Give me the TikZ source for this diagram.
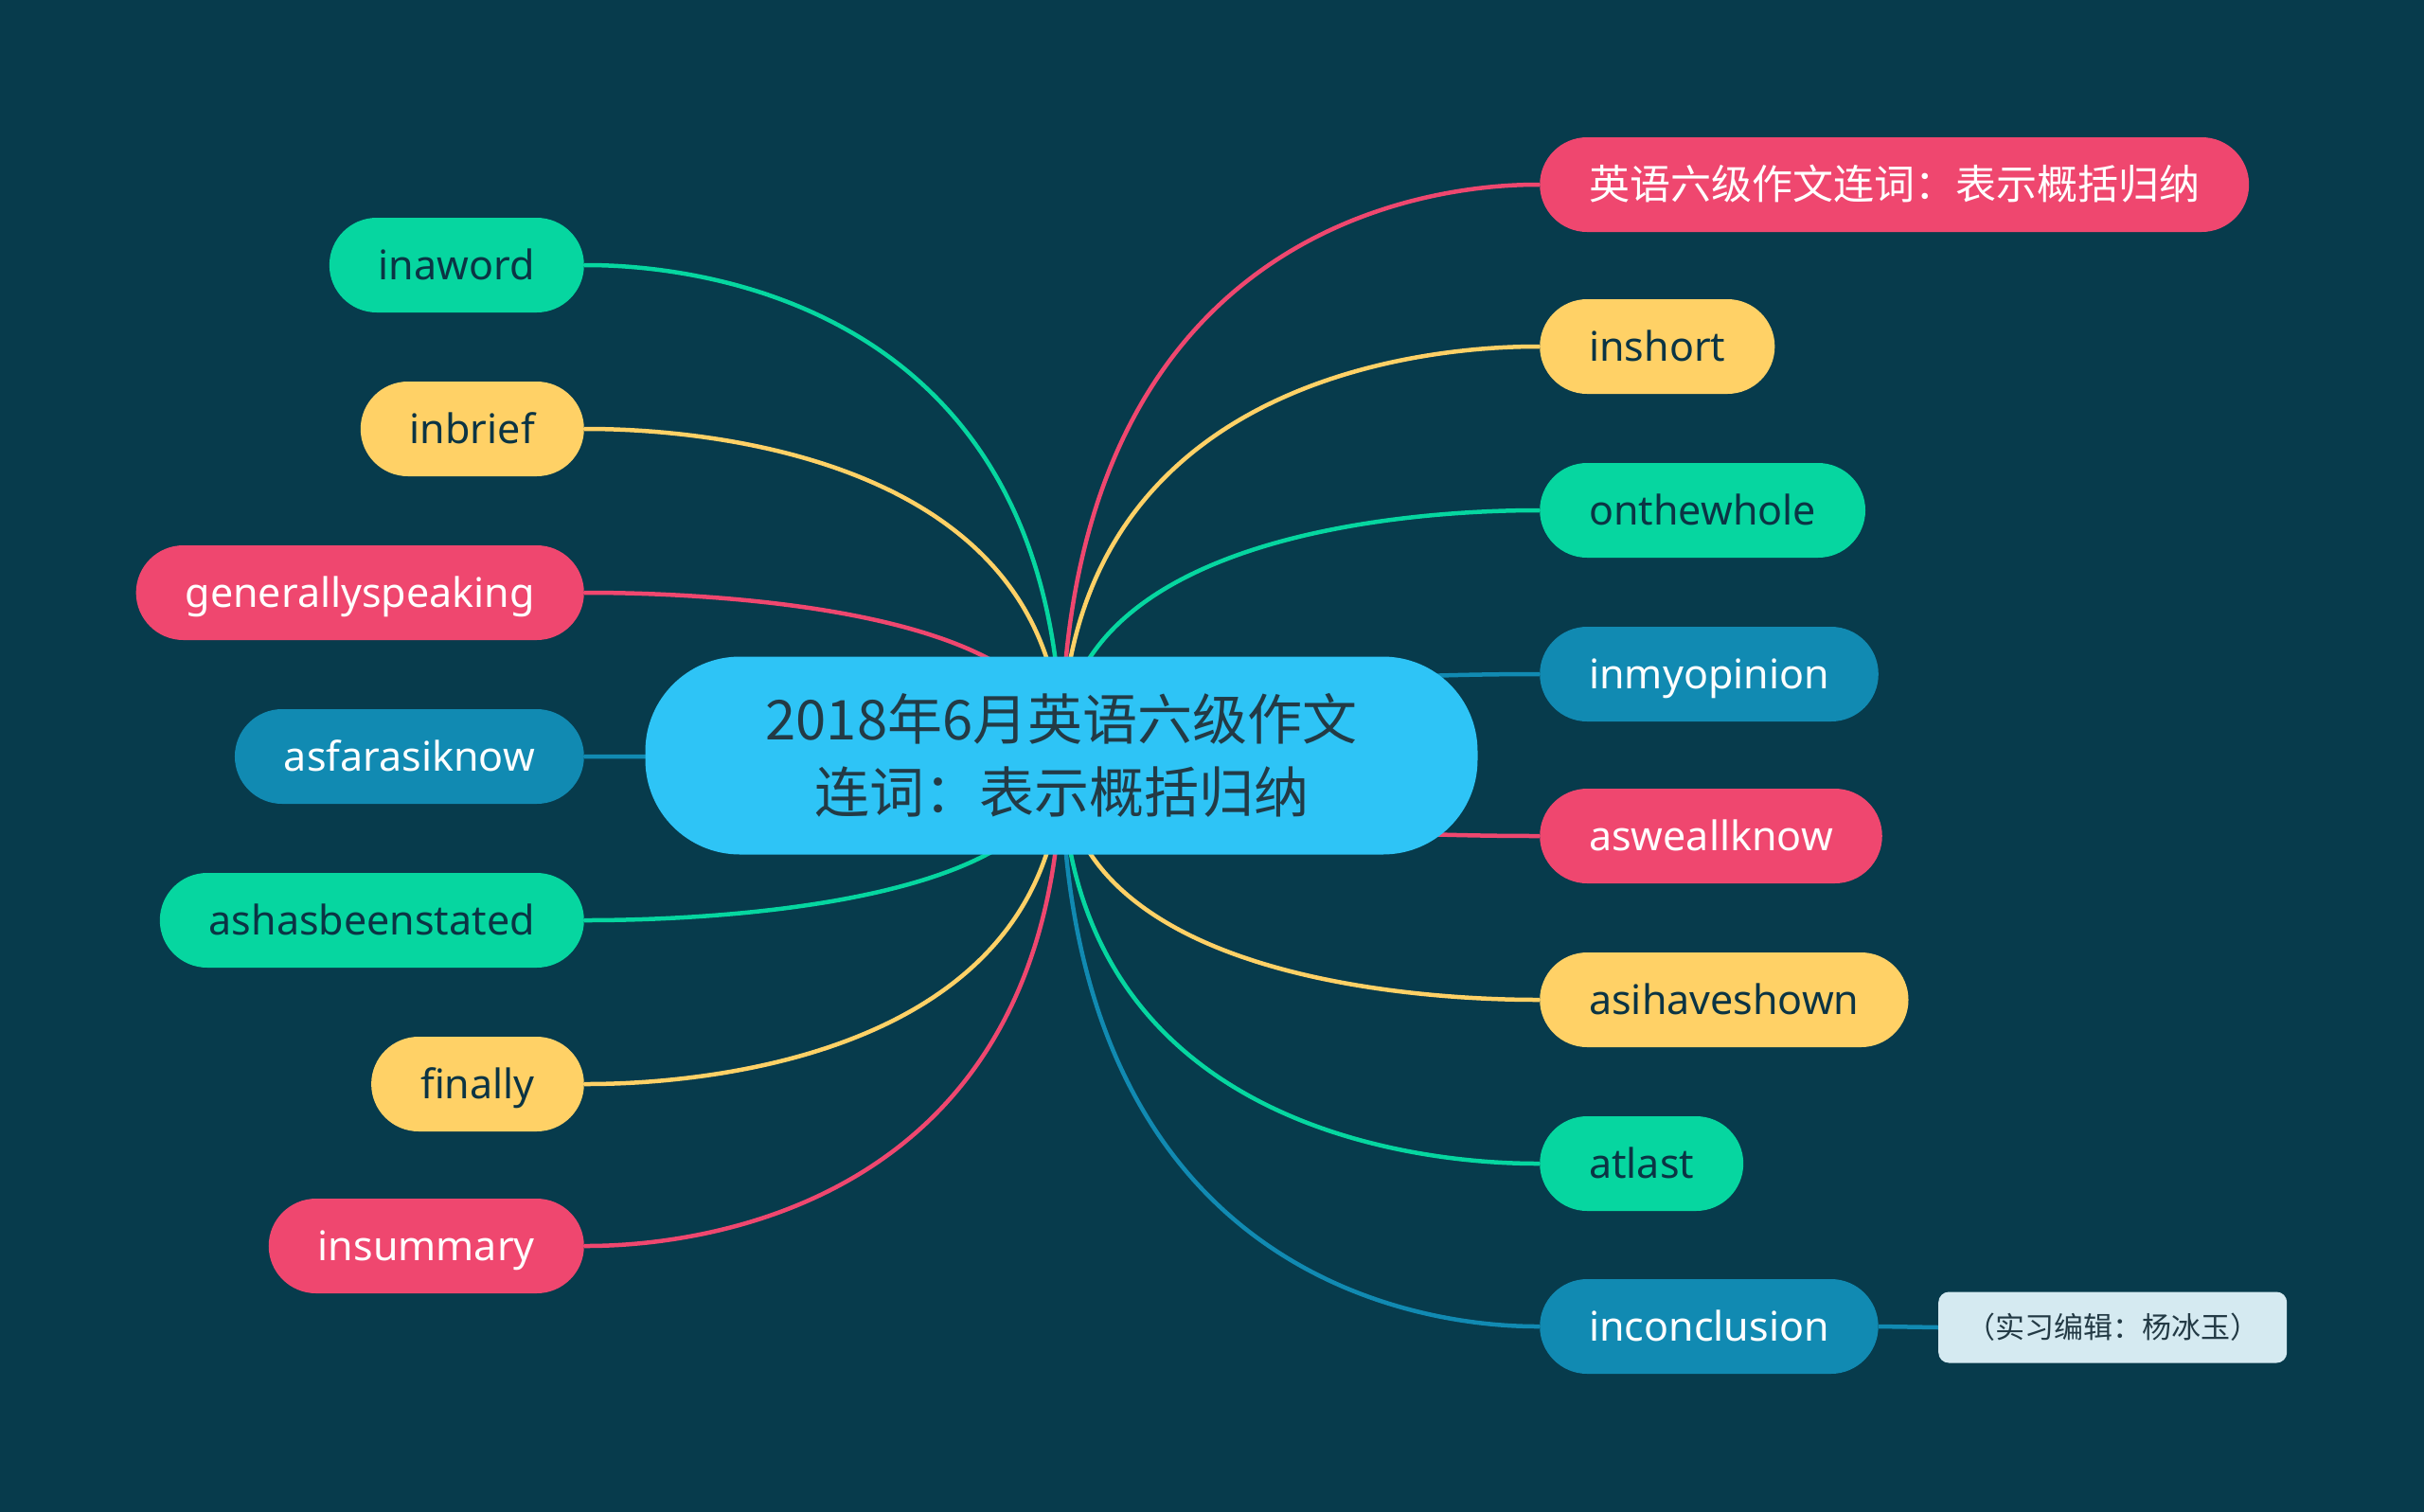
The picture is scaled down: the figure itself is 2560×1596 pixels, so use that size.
\documentclass[tikz,border=0pt]{standalone}
\usepackage{fontspec}
\setmainfont{Noto Sans}
\newfontfamily\cjk{Noto Sans CJK SC}
\usetikzlibrary{calc}
\definecolor{bgc}{HTML}{073B4C}
\definecolor{cgreen}{HTML}{06D6A0}
\definecolor{cyellow}{HTML}{FFD166}
\definecolor{cpink}{HTML}{EF476F}
\definecolor{cblue}{HTML}{118AB2}
\definecolor{ccenter}{HTML}{2EC4F6}
\definecolor{cnote}{HTML}{D5EAF1}
\definecolor{cdark}{HTML}{0B3444}
\definecolor{ctext}{HTML}{233A45}
\pgfdeclarelayer{bgl}
\pgfdeclarelayer{back}
\pgfsetlayers{bgl,back,main}
\newcommand\mmlink[3]{\draw[link,#3] (#1.center) .. controls (#1.center |- #2) and ($(#1.center |- #2)!0.9!(#2)$) .. (#2);}
\begin{document}
\begin{tikzpicture}[x=1pt,y=-1pt,
  leaf/.style={rectangle, rounded corners=50pt, minimum height=100pt, inner xsep=52pt, inner ysep=0pt,
    font=\fontsize{43}{50}\selectfont, text height=35pt, text depth=5pt},
  gn/.style={leaf, fill=cgreen, text=cdark},
  yl/.style={leaf, fill=cyellow, text=cdark},
  pk/.style={leaf, fill=cpink, text=white},
  bl/.style={leaf, fill=cblue, text=white},
  link/.style={line width=4.5pt},
  centre/.style={rectangle, rounded corners=100pt, fill=ccenter, text=ctext, minimum width=879pt, minimum height=209pt,
    align=center, font=\cjk\fontsize{58}{77}\selectfont},
  notebox/.style={rectangle, rounded corners=11pt, fill=cnote, text=ctext, minimum width=368pt, minimum height=75pt,
    font=\cjk\fontsize{31}{36}\selectfont}
]
\useasboundingbox (0,0) rectangle (2560,1596);
\begin{pgfonlayer}{bgl}
\fill[bgc] (-20,-20) rectangle (2580,1616);
\end{pgfonlayer}

\node[centre] (c) at (1121,798) {2018年6月英语六级作文\\连词：表示概括归纳};

% left
\node[gn, anchor=east] (l1) at (617,280) {inaword};
\node[yl, anchor=east] (l2) at (617,453) {inbrief};
\node[pk, anchor=east] (l3) at (617,626) {generallyspeaking};
\node[bl, anchor=east] (l4) at (617,799) {asfarasiknow};
\node[gn, anchor=east] (l5) at (617,972) {ashasbeenstated};
\node[yl, anchor=east] (l6) at (617,1145) {finally};
\node[pk, anchor=east] (l7) at (617,1316) {insummary};

% right
\node[pk, anchor=west, font=\cjk\fontsize{43}{50}\selectfont, text height=37pt, text depth=6pt] (r1) at (1626,195) {英语六级作文连词：表示概括归纳};
\node[yl, anchor=west] (r2) at (1626,366) {inshort};
\node[gn, anchor=west] (r3) at (1626,539) {onthewhole};
\node[bl, anchor=west] (r4) at (1626,712) {inmyopinion};
\node[pk, anchor=west] (r5) at (1626,883) {asweallknow};
\node[yl, anchor=west] (r6) at (1626,1056) {asihaveshown};
\node[gn, anchor=west] (r7) at (1626,1229) {atlast};
\node[bl, anchor=west] (r8) at (1626,1401) {inconclusion};

\node[notebox, anchor=west] (n) at (2047,1402) {（实习编辑：杨冰玉）};

\begin{pgfonlayer}{back}
\mmlink{c}{l1.east}{cgreen}
\mmlink{c}{l2.east}{cyellow}
\mmlink{c}{l3.east}{cpink}
\mmlink{c}{l4.east}{cblue}
\mmlink{c}{l5.east}{cgreen}
\mmlink{c}{l6.east}{cyellow}
\mmlink{c}{l7.east}{cpink}
\mmlink{c}{r1.west}{cpink}
\mmlink{c}{r2.west}{cyellow}
\mmlink{c}{r3.west}{cgreen}
\mmlink{c}{r4.west}{cblue}
\mmlink{c}{r5.west}{cpink}
\mmlink{c}{r6.west}{cyellow}
\mmlink{c}{r7.west}{cgreen}
\mmlink{c}{r8.west}{cblue}
\draw[link,cblue] (r8.east) -- (n.west);
\end{pgfonlayer}
\end{tikzpicture}
\end{document}
